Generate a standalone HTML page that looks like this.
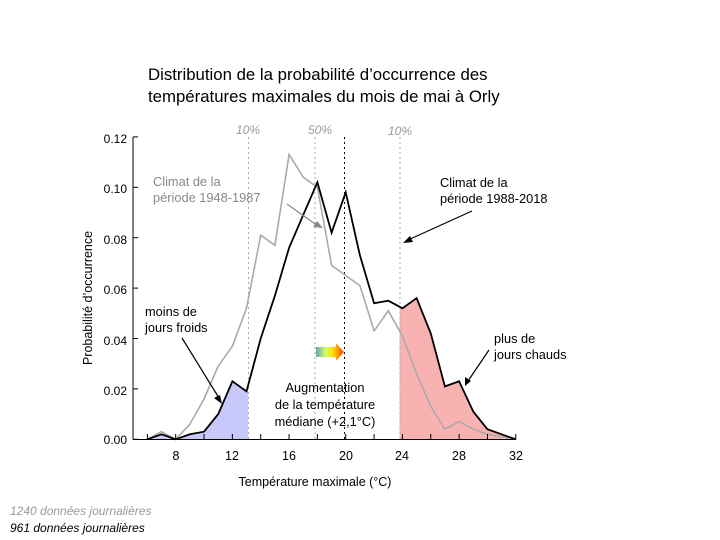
<!DOCTYPE html>
<html><head><meta charset="utf-8"><style>
body{margin:0;background:#fff}
svg{display:block;font-family:"Liberation Sans",sans-serif}
</style></head><body>
<svg id="s" width="720" height="540" xmlns="http://www.w3.org/2000/svg">
<text x="148" y="80" font-size="16.8">Distribution de la probabilité d’occurrence des</text>
<text x="148" y="102" font-size="16.8">températures maximales du mois de mai à Orly</text>
<g id="fills"></g>
<g stroke-dasharray="2,3" stroke-width="1">
<line x1="248.5" y1="137" x2="248.5" y2="439" stroke="#aaa"/>
<line x1="315" y1="137" x2="315" y2="439" stroke="#aaa"/>
<line x1="400" y1="137" x2="400" y2="439" stroke="#aaa"/>
<line x1="344.5" y1="137" x2="344.5" y2="439" stroke="#000"/>
</g>
<g font-size="12" font-style="italic" fill="#999" text-anchor="middle">
<text x="248" y="134">10%</text><text x="320" y="134">50%</text><text x="400" y="135">10%</text>
</g>
<g id="lines"></g>
<g stroke="#000" fill="none" stroke-width="1">
<line x1="133" y1="137" x2="133" y2="439.5"/>
<line x1="133" y1="439.5" x2="516" y2="439.5"/>
</g>
<g id="ticks" stroke="#000"></g>
<g font-size="12" text-anchor="end">
<text x="127" y="143">0.12</text><text x="127" y="193">0.10</text><text x="127" y="244">0.08</text>
<text x="127" y="294">0.06</text><text x="127" y="345">0.04</text><text x="127" y="395">0.02</text><text x="127" y="444">0.00</text>
</g>
<g font-size="12.5" text-anchor="middle">
<text x="176" y="460">8</text><text x="232" y="460">12</text><text x="289" y="460">16</text><text x="346" y="460">20</text>
<text x="402" y="460">24</text><text x="459" y="460">28</text><text x="516" y="460">32</text>
</g>
<text transform="translate(92,298) rotate(-90)" font-size="12.5" text-anchor="middle">Probabilité d’occurrence</text>
<text x="315" y="486" font-size="12.5" text-anchor="middle">Température maximale (°C)</text>
<text x="10" y="515" font-size="12" font-style="italic" fill="#999">1240 données journalières</text>
<text x="10" y="532" font-size="12" font-style="italic">961 données journalières</text>
<g font-size="12.8">
<text x="153" y="186" fill="#888">Climat de la</text><text x="153" y="202" fill="#888">période 1948-1987</text>
<text x="440" y="187">Climat de la</text><text x="440" y="203">période 1988-2018</text>
<text x="145" y="316">moins de</text><text x="145" y="332">jours froids</text>
<text x="494" y="343">plus de</text><text x="494" y="359">jours chauds</text>
<text x="325" y="392" text-anchor="middle">Augmentation</text>
<text x="325" y="409" text-anchor="middle">de la température</text>
<text x="325" y="426" text-anchor="middle">médiane (+2,1°C)</text>
</g>
<defs><linearGradient id="g" x1="0" x2="1"><stop offset="0" stop-color="#6aa"/><stop offset="0.35" stop-color="#cf6"/><stop offset="0.6" stop-color="#fd0"/><stop offset="1" stop-color="#f40"/></linearGradient></defs>
<polygon points="316,347 336,347 336,343 344,352 336,361 336,357 316,357" fill="url(#g)"/>
<g fill="none" stroke-width="1.2">
<line x1="287" y1="204" x2="318" y2="226" stroke="#888"/><polygon points="323,228 313,227 317,221" fill="#888"/>
<line x1="472" y1="211" x2="408" y2="240" stroke="#000"/><polygon points="403,243 410,236 413,242" fill="#000"/>
<line x1="182" y1="338" x2="219" y2="398" stroke="#000"/><polygon points="222,404 214,398 220,395" fill="#000"/>
<line x1="489" y1="350" x2="468" y2="381" stroke="#000"/><polygon points="465,386 465,377 471,381" fill="#000"/>
</g>
</svg>
<script>
var X=T=>175.7+(T-8)*14.17,Y=v=>439.3-v*2520;
var b={5:0,6:0,7:.002,8:0,9:.002,10:.003,11:.01,12:.023,13:.019,14:.04,15:.057,16:.076,17:.089,18:.102,19:.082,20:.098,21:.073,22:.054,23:.055,24:.052,25:.056,26:.042,27:.021,28:.023,29:.011,30:.004,31:.002,32:0};
var g={6:0,7:.003,8:0,9:.006,10:.016,11:.029,12:.037,13:.052,14:.081,15:.077,16:.113,17:.104,18:.1,19:.069,20:.065,21:.061,22:.043,23:.051,24:.041,25:.026,26:.013,27:.004,28:.007,29:.004,30:.002,31:.001,32:0};
function pts(d,a,z){var p=[];for(var t=a;t<=z;t++)p.push(X(t).toFixed(1)+","+Y(d[t]).toFixed(1));return p;}
var ns="http://www.w3.org/2000/svg";
function el(par,tag,at){var e=document.createElementNS(ns,tag);for(var k in at)e.setAttribute(k,at[k]);document.getElementById(par).appendChild(e);}
var bl=pts(b,5,13);bl.push(X(13.1)+","+Y(.0192));bl.push(X(13.1)+",439.3");bl.push("133,439.3");
el("fills","polygon",{points:bl.join(" "),fill:"#c8c8fa"});
var rd=[X(23.8)+",439.3",X(23.8)+","+Y(.0526)].concat(pts(b,24,32));
el("fills","polygon",{points:rd.join(" "),fill:"#f9b2b2"});
el("lines","polyline",{points:pts(g,6,32).join(" "),fill:"none",stroke:"#aaa","stroke-width":1.6});
el("lines","polyline",{points:pts(b,6,32).join(" "),fill:"none",stroke:"#000","stroke-width":1.8});
for(var t=6;t<=32;t+=2)el("ticks","line",{x1:X(t),x2:X(t),y1:439.5,y2:434});
for(var i=0;i<=6;i++){var y=Y(i*.02);el("ticks","line",{x1:133,x2:138,y1:y,y2:y});}
</script>
</body></html>
